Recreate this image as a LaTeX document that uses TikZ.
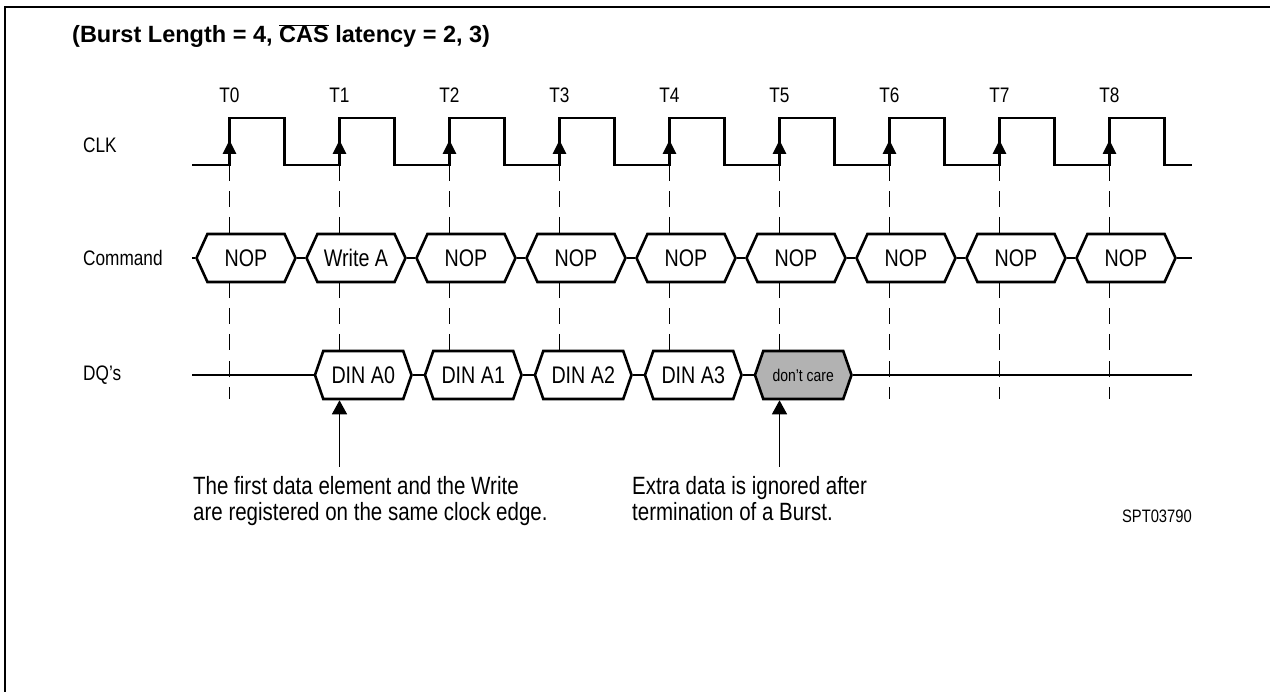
\documentclass[tikz,border=0pt]{standalone}
\usepackage{fontspec}
\setmainfont{Liberation Sans}[FakeStretch=0.82]
\newfontfamily\titlefont{Liberation Sans}
\usetikzlibrary{arrows.meta,shapes.symbols}

\begin{document}
\begin{tikzpicture}[
    x=1pt, y=-1pt,
    wave/.style={line width=2.6pt, line join=miter},
    guide/.style={line width=1.1pt, dash pattern=on 16pt off 10pt},
    bus/.style={draw, line width=2.6pt, signal, signal to=west and east, signal pointer angle=131, minimum width=99pt, minimum height=48pt, inner sep=0pt, fill=white, font=\fontsize{24}{26}\selectfont},
    dqbus/.style={bus, signal pointer angle=142, minimum width=96.5pt},
    lbl/.style={anchor=west, inner sep=0pt, font=\fontsize{21}{24}\selectfont},
    tlabel/.style={inner sep=0pt, font=\fontsize{21}{24}\selectfont},
    note/.style={anchor=north west, align=left, inner sep=0pt, font=\fontsize{25}{26}\selectfont},
    clkedge/.style={-{Triangle[width=13pt,length=14pt]}, line width=2.6pt},
    hint/.style={-{Triangle[width=15pt,length=14pt]}, line width=1.5pt},
]
\useasboundingbox (0,0) rectangle (1270,692);

% Frame
\draw[line width=2.4pt] (5,692) -- (5,7) -- (1270,7);

\node[anchor=base west, inner sep=0pt, font=\titlefont\bfseries\fontsize{23.5}{26}\selectfont] (title) at (72,43) {(Burst Length = 4, $\overline{\mbox{CAS}}$ latency = 2, 3)};

% Signal names
\node[lbl] (clk) at (83,145) {CLK};
\node[lbl] (cmd) at (83,258) {Command};
\node[lbl] (dq) at (83,375) {DQ’s};

% Clock
\foreach \k in {0,...,8}
    \node[tlabel] (t\k) at ({229.5+110*\k},95) {T\k};
\draw[wave] (192,165) \foreach \k in {0,...,8} { -- ({229.5+110*\k},165) -- ++(0,-47) -- ++(55,0) -- ++(0,47) } -- (1192,165);
\foreach \k in {0,...,8}
    \draw[clkedge] ({229.5+110*\k},165) -- ++(0,-25);

% Guides
\foreach \k in {0,...,8} {
    \draw[guide] ({229.5+110*\k},165) -- ++(0,69);
    \draw[guide] ({229.5+110*\k},282) -- ++(0,69);
}
\foreach \k in {0,6,7,8}
    \draw[guide, dash phase=16pt] ({229.5+110*\k},351) -- ++(0,48);

% Command
\node[bus] (c0) at (246,258) {NOP};
\node[bus] (c1) at (356,258) {Write A};
\node[bus] (c2) at (466,258) {NOP};
\node[bus] (c3) at (576,258) {NOP};
\node[bus] (c4) at (686,258) {NOP};
\node[bus] (c5) at (796,258) {NOP};
\node[bus] (c6) at (906,258) {NOP};
\node[bus] (c7) at (1016,258) {NOP};
\node[bus] (c8) at (1126,258) {NOP};
\draw[wave] (192,258) -- (c0.west);
\foreach \k [evaluate=\k as \n using int(\k+1)] in {0,...,7}
    \draw[wave] (c\k.east) -- (c\n.west);
\draw[wave] (c8.east) -- (1192,258);

% DQ
\node[dqbus] (d0) at (363.25,375) {DIN A0};
\node[dqbus] (d1) at (473.25,375) {DIN A1};
\node[dqbus] (d2) at (583.25,375) {DIN A2};
\node[dqbus] (d3) at (693.25,375) {DIN A3};
\node[dqbus, fill=black!30, font=\fontsize{17}{19}\selectfont] (dc) at (803.25,375) {don’t care};
\draw[wave] (192,375) -- (d0.west);
\draw[wave] (d0.east) -- (d1.west);
\draw[wave] (d1.east) -- (d2.west);
\draw[wave] (d2.east) -- (d3.west);
\draw[wave] (d3.east) -- (dc.west);
\draw[wave] (dc.east) -- (1192,375);

% Notes
\coordinate (p0) at (339.5,467);
\coordinate (p1) at (779.5,467);
\draw[hint] (p0) -- (p0 |- d0.south);
\draw[hint] (p1) -- (p1 |- dc.south);
\node[note] (n0) at (193,476.5) {The first data element and the Write\\are registered on the same clock edge.};
\node[note] (n1) at (632,476.5) {Extra data is ignored after\\termination of a Burst.};
\node[anchor=base east, inner sep=0pt, font=\fontsize{18}{20}\selectfont] (id) at (1192,523) {SPT03790};

\end{tikzpicture}
\end{document}
